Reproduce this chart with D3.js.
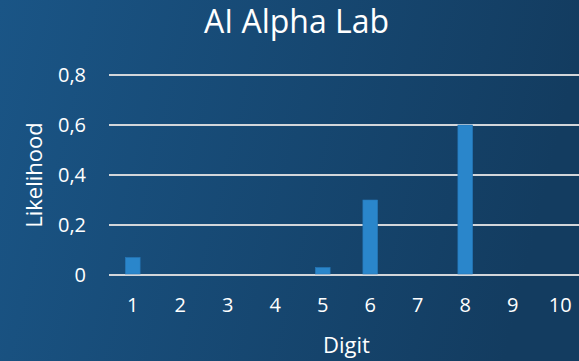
<!DOCTYPE html>
<html>
<head>
<meta charset="utf-8">
<script src="https://cdn.jsdelivr.net/npm/d3@7"></script>
<style>
  html, body { margin: 0; padding: 0; background: #163f63; }
  svg { display: block; }
  text { font-family: "Open Sans", sans-serif; fill: #ffffff; }
</style>
</head>
<body>
<script>
const categories = ["1", "2", "3", "4", "5", "6", "7", "8", "9", "10"];
const likelihood = [0.07, 0, 0, 0, 0.03, 0.3, 0, 0.6, 0, 0];
const yTicks = [0, 0.2, 0.4, 0.6, 0.8];
const chartTitle = "AI Alpha Lab";
const xTitle = "Digit";
const yTitle = "Likelihood";

const W = 579, H = 361;
const svg = d3.select("body").append("svg").attr("width", W).attr("height", H);

const defs = svg.append("defs");
const grad = defs.append("linearGradient").attr("id", "bg")
  .attr("x1", "0").attr("y1", "0").attr("x2", "1").attr("y2", "0.15");
grad.append("stop").attr("offset", "0").attr("stop-color", "#1a5586");
grad.append("stop").attr("offset", "1").attr("stop-color", "#133c60");
svg.append("rect").attr("width", W).attr("height", H).attr("fill", "url(#bg)");

const x = d3.scaleBand().domain(categories).range([109, 584])
  .paddingInner(0.69).paddingOuter(0.345);
const y = d3.scaleLinear().domain([0, 0.8]).range([275, 75]);

// gridlines
const grid = svg.append("g");
grid.selectAll("line").data(yTicks).join("line")
  .attr("x1", 109).attr("x2", W)
  .attr("y1", d => y(d)).attr("y2", d => y(d))
  .attr("stroke", "#d3d6da").attr("stroke-width", 2);

// bars
svg.append("g").selectAll("rect").data(likelihood).join("rect")
  .attr("x", (d, i) => x(categories[i]))
  .attr("width", x.bandwidth())
  .attr("y", d => y(d))
  .attr("height", d => y(0) - y(d) - 1)
  .attr("fill", "#2a86cb")
  .attr("stroke", "#2677b8").attr("stroke-width", 0.6);

// y axis labels
const fmt = d => d === 0 ? "0" : d3.format(".1f")(d).replace(".", ",");
const yAxis = d3.axisLeft(y).tickValues(yTicks).tickFormat(fmt).tickSize(0).tickPadding(0);
const yg = svg.append("g").attr("transform", "translate(86,0)").call(yAxis);
yg.select(".domain").remove();
yg.selectAll("text").attr("font-family", "Open Sans").attr("font-size", 20).attr("fill", "#fff");

// x axis labels
const xAxis = d3.axisBottom(x).tickSize(0).tickPadding(0);
const xg = svg.append("g").attr("transform", "translate(0,298)").call(xAxis);
xg.select(".domain").remove();
xg.selectAll("text").attr("font-family", "Open Sans").attr("font-size", 20).attr("fill", "#fff");

// titles
svg.append("text").attr("x", 296.5).attr("y", 33).attr("text-anchor", "middle")
  .attr("font-size", 32).text(chartTitle);
svg.append("text").attr("x", 346.5).attr("y", 353).attr("text-anchor", "middle")
  .attr("font-size", 22).text(xTitle);
svg.append("text").attr("transform", "translate(42,175) rotate(-90)")
  .attr("text-anchor", "middle").attr("font-size", 22).text(yTitle);
</script>
</body>
</html>
